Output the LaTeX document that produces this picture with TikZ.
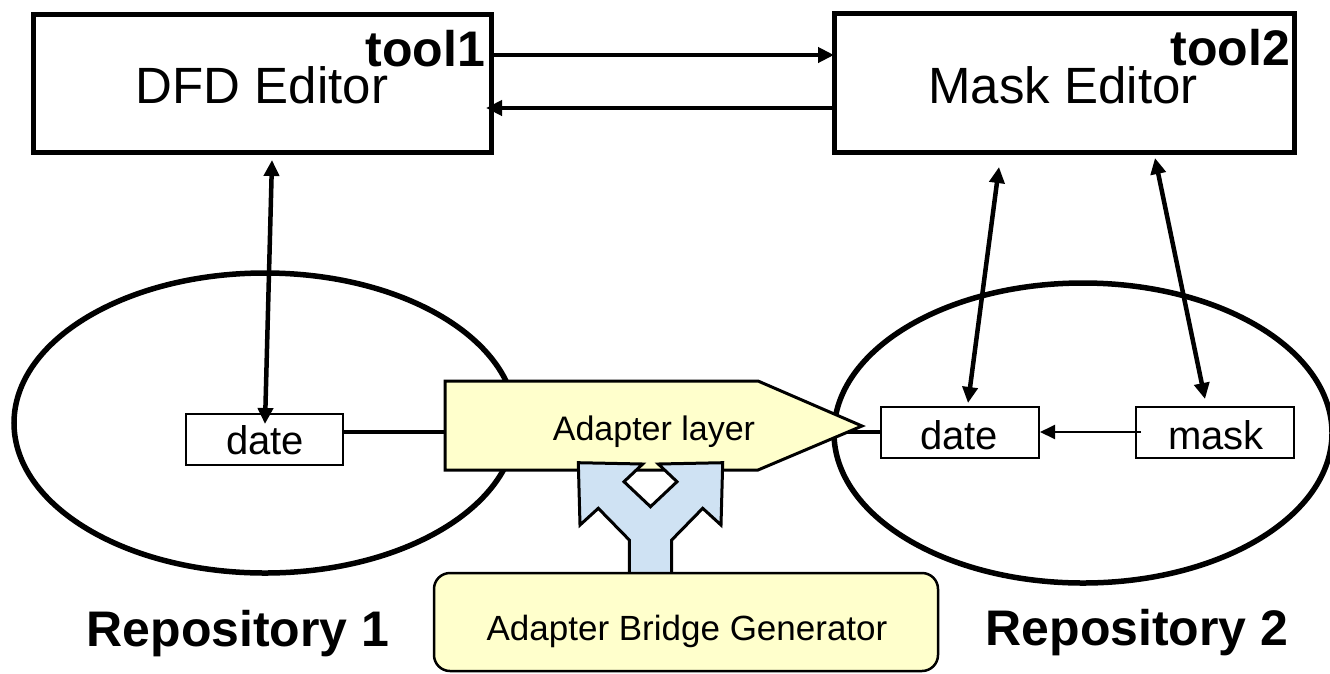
\documentclass[tikz,border=0pt]{standalone}
\usepackage{fontspec}
\setmainfont{Liberation Sans}
\usetikzlibrary{arrows.meta}
\definecolor{paleyellow}{HTML}{FFFFCC}
\definecolor{paleblue}{HTML}{CFE2F3}
\tikzset{
  editorbox/.style={draw, line width=5pt, inner sep=0pt, minimum width=458pt, minimum height=138pt},
  itembox/.style={draw, line width=2pt, fill=white, inner sep=0pt, minimum width=157pt, minimum height=51pt},
  bigtxt/.style={font=\fontsize{51}{60}\selectfont, inner sep=0pt},
  tooltxt/.style={font=\bfseries\fontsize{50}{58}\selectfont, inner sep=0pt},
  itemtxt/.style={font=\fontsize{40}{48}\selectfont, inner sep=0pt},
  midtxt/.style={font=\fontsize{34}{40}\selectfont, inner sep=0pt},
  gentxt/.style={font=\fontsize{35}{42}\selectfont, inner sep=0pt},
  repotxt/.style={font=\bfseries\fontsize{50}{58}\selectfont, inner sep=0pt},
  thickarr/.style={line width=4.5pt, -{Triangle[length=16pt,width=15pt]}},
  dblarr/.style={line width=4.5pt, {Triangle[length=16pt,width=15pt]}-{Triangle[length=16pt,width=15pt]}},
  thinarr/.style={line width=2pt, -{Triangle[length=15pt,width=14pt]}},
  link/.style={line width=4.5pt},
  repo/.style={line width=5.5pt},
}
\begin{document}
\begin{tikzpicture}[x=1pt,y=-1pt]
\useasboundingbox (0,0) rectangle (1330,673);

% repositories
\draw[repo] (265,423) ellipse [x radius=251pt, y radius=150pt];
\draw[repo] (1083,433) ellipse [x radius=249pt, y radius=150pt];

% editors
\node[editorbox] (dfd) at (262,83) {};
\node[editorbox, minimum width=460pt, minimum height=139pt] (mask) at (1064,82.5) {};
\node[bigtxt, anchor=base] (dfdtxt) at (262,103) {DFD Editor};
\node[bigtxt, anchor=base] (masktxt) at (1063,103) {Mask Editor};
\node[tooltxt, anchor=base east] (tool1) at (485,66) {tool1};
\node[tooltxt, anchor=base east] (tool2) at (1290,65) {tool2};

% items
\node[itembox] (date1) at (264.5,439) {};
\node[itemtxt, anchor=base] (date1txt) at (265,454) {date};
\node[itembox, minimum width=158pt] (date2) at (960,432.5) {};
\node[itemtxt, anchor=base] (date2txt) at (959,449) {date};
\node[itembox, minimum width=158pt] (maskitem) at (1215,432.5) {};
\node[itemtxt, anchor=base] (masktxt2) at (1216,449) {mask};

% editor arrows
\coordinate (a1s) at (491,55);
\coordinate (a1e) at (834,55);
\coordinate (a2s) at (834,108);
\coordinate (a2e) at (486,108);
\draw[thickarr] (a1s) -- (a1e);
\draw[thickarr] (a2s) -- (a2e);

\coordinate (v1t) at (272,160);
\coordinate (v1b) at (265,424);
\draw[dblarr] (v1t) -- (v1b);
\coordinate (v2t) at (999,167);
\coordinate (v2b) at (968,403);
\draw[dblarr] (v2t) -- (v2b);
\coordinate (v3t) at (1155,158);
\coordinate (v3b) at (1205,399);
\draw[dblarr] (v3t) -- (v3b);

\coordinate (mstart) at (1141,432);
\draw[thinarr] (mstart) -- (date2.east |- mstart);

% adapter layer
\coordinate (adL) at (445,432);
\coordinate (adR) at (840,432);
\draw[link] (date1.east |- adL) -- (adL);
\draw[link] (adR) -- (date2.west |- adR);
\draw[line width=3pt, fill=paleyellow, line join=miter]
  (445,381) -- (758,381) -- (862,426) -- (758,470) -- (445,470) -- cycle;
\node[midtxt, anchor=base] (adapter) at (654,440) {Adapter layer};

% split arrow
\draw[line width=3pt, fill=paleblue, line join=miter]
  (629.3,572.3) -- (629.3,540) -- (598.3,508.3) -- (580,525) -- (578.3,462.7)
  -- (642.7,464) -- (624,481.7) -- (650.5,506.7) -- (677,481.7) -- (658.3,464)
  -- (722.7,462.7) -- (721,525) -- (702.7,508.3) -- (671.7,540) -- (671.7,572.3);

% generator
\draw[line width=2.5pt, fill=paleyellow, rounded corners=16pt] (434,573) rectangle (938,671);
\node[gentxt, anchor=base] (gen) at (687,640) {Adapter Bridge Generator};

% labels
\node[repotxt, anchor=base] (repo1) at (238,646) {Repository 1};
\node[repotxt, anchor=base] (repo2) at (1137,645) {Repository 2};
\end{tikzpicture}
\end{document}
